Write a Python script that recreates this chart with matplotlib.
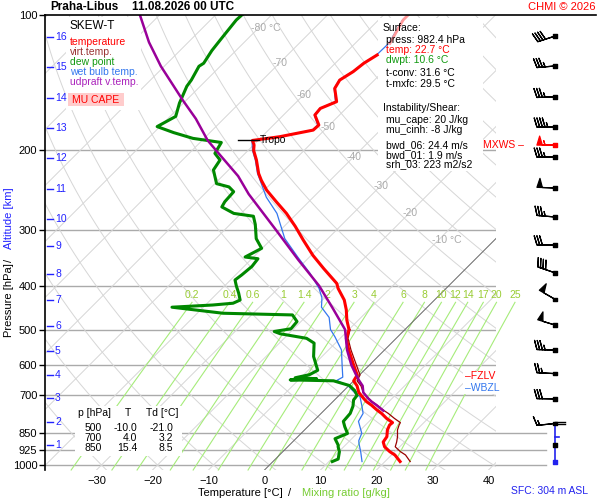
import numpy as np
import matplotlib.pyplot as plt
import matplotlib.transforms as mtransforms
from matplotlib.patches import Rectangle
from matplotlib.lines import Line2D
from matplotlib.ticker import NullLocator

plt.rcParams['font.family'] = ['Liberation Sans', 'DejaVu Sans']

# ---- sounding (hPa, deg C) ----
temp_p = [982.4, 950, 934, 911, 889, 865, 836, 815, 805, 788, 768, 755, 736, 723, 711,
          690, 667, 650, 631, 600, 555, 523, 500, 476, 452, 430, 405, 395, 366, 342,
          316, 295, 276, 260, 245, 233, 225, 210, 200, 194.5, 190, 186.4, 180.2, 175.6,
          166.8, 161.3, 155.8, 145.6, 139.5, 133.6, 128, 122.7, 115.6, 102.6, 100]
temp_t = [22.7, 20.6, 19.1, 17.3, 16.2, 15.9, 14.8, 14.3, 14.4, 12.6, 10.8, 9.4, 7.5, 6.0, 4.9,
          3.0, 1.5, 0.0, -0.4, -2.8, -6.4, -8.9, -10.0, -12.1, -14.0, -16.1, -19.3, -20.4, -25.4, -29.7,
          -34.2, -38.0, -41.9, -45.8, -49.6, -52.3, -54.0, -56.8, -59.0, -59.9, -61.0, -56.8, -52.0, -51.9,
          -54.4, -54.6, -52.9, -55.6, -56.2, -55.3, -54.9, -54.0, -53.8, -55.6, -55.6]

tv_p = [982.4, 950, 934, 911, 889, 865, 836, 815, 805, 788, 768, 755, 736, 723, 711,
        690, 667, 650, 631, 600, 555, 523, 500]
tv_t = [24.5, 22.5, 21.0, 19.2, 18.6, 17.8, 16.6, 16.0, 15.8, 14.0, 12.0, 10.5, 8.5, 7.0, 5.8,
        3.8, 2.2, 0.6, 0.1, -2.3, -6.0, -8.6, -9.8]

td_p = [982.4, 970, 934, 911, 903, 874, 851, 822, 800, 768, 740, 717, 700, 683, 666,
        650, 647, 643, 640, 630, 616, 574, 536, 523, 511, 505, 498, 480, 464, 460,
        446, 441, 437, 430, 415, 400, 388, 378, 362, 348, 345, 330, 314, 292, 280,
        276, 267, 260, 247, 241, 237, 221, 210, 203, 192, 188, 182.5, 177, 168, 157,
        144, 139.5, 130, 128, 120, 113.6, 102.6, 100]
td_t = [10.6, 11.2, 10.1, 9.0, 8.7, 7.0, 8.3, 6.6, 5.4, 5.2, 4.4, 3.4, 3.2, 1.9, 0.1,
        -3.6, -11.5, -7.0, -11.0, -9.0, -8.3, -11.5, -13.8, -16.0, -21.5, -23.0, -20.5, -20.7, -22.7, -35.4,
        -45.6, -38.7, -35.4, -34.7, -36.2, -37.9, -39.2, -38.9, -38.6, -38.9, -41.5, -40.1, -42.8, -45.5, -47.3,
        -51.3, -54.6, -55.0, -55.2, -56.9, -59.7, -62.7, -63.3, -65.4, -66.2, -72.0, -76.5, -80.5, -79.0, -80.7,
        -82.4, -82.7, -83.8, -83.5, -84.3, -84.7, -85.4, -85.3]

tw_p = [982.4, 934, 895, 883, 850, 800, 768, 740, 704, 696, 666, 649, 638, 601, 555,
        519, 500, 470, 446, 425, 405, 375, 345, 314, 276, 254, 232.6, 225, 210, 200,
        190, 186.4, 180.2, 175.6, 166.8, 161.3, 155.8, 145.6, 139.5, 133.6, 128, 122.7,
        115.6, 102.6, 100]
tw_t = [15.9, 13.9, 12.1, 11.6, 10.8, 8.1, 7.5, 6.0, 3.9, 2.8, -0.2, -3.1, -2.6, -4.8, -7.7,
        -11.2, -13.3, -15.7, -18.9, -20.5, -22.7, -27.0, -32.1, -37.7, -43.6, -48.4, -52.6, -54.2, -57.0, -59.2,
        -61.1, -56.9, -52.2, -52.1, -54.5, -54.7, -53.1, -55.7, -56.3, -55.4, -55.0, -54.1,
        -54.0, -55.7, -55.7]

par_p = [757, 736, 723, 711, 690, 667, 650, 631, 600, 555, 500, 450, 400, 350, 300,
         250, 228, 200, 190, 170, 155, 130, 115, 100]
par_t = [10.6, 8.4, 6.9, 5.7, 3.8, 2.5, 1.0, -0.6, -3.2, -6.7, -10.7, -16.5, -23.1, -31.5, -40.9,
         -52.1, -57.2, -65.7, -69.0, -75.0, -80.5, -90.6, -97.0, -103.5]

tropo_p, tropo_t = 190, -61.0

km_p = [902.8, 802.6, 709.9, 631, 558.1, 491.1, 429.9, 376.3, 326.1, 284.0,
        243.6, 207.9, 178.3, 152.9, 130.5, 111.9]
km_lab = list(range(1, 17))

wind_p = [111.4, 129.8, 152.0, 177.4, 194.6, 206.9, 242.3, 281.1, 324.2, 374.1,
          428.3, 488.6, 555.6, 626.5, 713.1, 808.6]
wind_dir = [252, 265, 268, 270, 270, 270, 272, 275, 270, 289, 300, 287, 272, 273, 271, 264]
wind_spd = [20, 17.5, 17.5, 22.5, 27.5, 17.5, 25, 17.5, 15, 20, 25, 25, 17.5, 12.5, 15, 7.5]
mxws_p = 194.6

fzlv_p, wbzl_p = 634, 674

tab_p = [500, 700, 850]
tab_t = [-10.0, 4.0, 15.4]
tab_td = [-21.0, 3.2, 8.5]

p_levels = [100, 200, 300, 400, 500, 600, 700, 850, 925, 1000]
t_ticks = [-30, -20, -10, 0, 10, 20, 30, 40]
iso_lab_t = [-80, -70, -60, -50, -40, -30, -20, -10]
iso_lab_p = [106.9, 127.9, 150.7, 177.2, 206.9, 239.9, 275.4, 316.2]
mr_vals = [0.2, 0.4, 0.6, 1, 1.4, 2, 3, 4, 6, 8, 10, 12, 14, 17, 20, 25]
mr_labels = ['0.2', '0.4', '0.6', '1', '1.4', '2', '3', '4', '6', '8', '10', '12', '14', '17', '20', '25']

# ---- skew-T geometry ----
P_BOT = 1025.9
SKEW = 80.36


def skx(t, p):
    return np.asarray(t, float) + SKEW * np.log10(P_BOT / np.asarray(p, float))


def mr_dewpoint(w, p):
    e = w * p / (622.0 + w)
    a = np.log(e / 6.112)
    return 243.5 * a / (17.67 - a)


def fx(px):
    return px / 600.0


def fy(py):
    return 1 - py / 500.0


fig = plt.figure(figsize=(6, 5), dpi=100)
fig.patch.set_facecolor('white')
ax = fig.add_axes([fx(45), 30 / 500, 451 / 600, 455 / 500])
ax.set_yscale('log')
ax.set_ylim(P_BOT, 100)
ax.set_xlim(-39.2, 41.34)

for s in ['right', 'bottom', 'top']:
    ax.spines[s].set_visible(False)
ax.spines['left'].set_linewidth(1.2)

ax.yaxis.set_minor_locator(NullLocator())
ax.set_yticks(p_levels)
ax.set_yticklabels([str(p) for p in p_levels])
ax.tick_params(axis='y', length=4, width=1, pad=1.5, labelsize=8)
ax.set_xticks(t_ticks)
ax.set_xticklabels([str(t).replace('-', '\u2212') for t in t_ticks])
ax.tick_params(axis='x', length=0, pad=4, labelsize=8)

# background grid
for p in p_levels[1:]:
    ax.axhline(p, color='#aaaaaa', lw=1, zorder=1)
for t in range(-130, 50, 10):
    ax.plot(skx([t, t], [P_BOT, 100]), [P_BOT, 100], color='#666666' if t == 0 else '#d6d6d6',
            lw=0.7, zorder=1.1 if t == 0 else 1)
pp = np.logspace(np.log10(P_BOT), 2, 60)
for th in range(-30, 200, 10):
    ta = (th + 273.15) * (pp / 1000.0) ** 0.2857 - 273.15
    ax.plot(skx(ta, pp), pp, color='#d6d6d6', lw=0.7, zorder=1)
pm = np.logspace(np.log10(P_BOT), np.log10(435), 30)
for w, lab in zip(mr_vals, mr_labels):
    ax.plot(skx(mr_dewpoint(w, pm), pm), pm, color='#a6ec7a', lw=0.8, zorder=1.05, clip_on=False)
    ax.text(skx(mr_dewpoint(w, 435), 435), 419, lab, color='#99cc33', fontsize=7.5,
            ha='center', va='center', zorder=1.2, clip_on=False)
for t, p in zip(iso_lab_t, iso_lab_p):
    lab = f'{t} \u00b0C' if t in (-80, -10) else str(t)
    ax.text(skx(t, p) - 1.25, p, lab, color='#aaaaaa', fontsize=7.5, ha='left', va='center', zorder=1.2)

# white boxes under the data
box_kw = dict(transform=fig.transFigure, clip_on=False, lw=0)
for (x0, y0, x1, y1) in [(66, 17, 141, 110), (378, 18, 483, 171), (75, 406, 182, 456), (463, 371, 508, 394)]:
    ax.add_patch(Rectangle((fx(x0), fy(y1)), (x1 - x0) / 600, (y1 - y0) / 500,
                           facecolor='white', zorder=1.5, **box_kw))
ax.add_patch(Rectangle((fx(68), fy(106)), 56 / 600, 13 / 500, facecolor='#ffcccc', zorder=1.6, **box_kw))

# CAPE shading
common = [p for p in par_p if p in tv_p]
tv_c = np.array([tv_t[tv_p.index(p)] for p in common])
par_c = np.array([par_t[par_p.index(p)] for p in common])
ax.fill_betweenx(common, skx(tv_c, common), skx(par_c, common), where=par_c > tv_c,
                 interpolate=True, color='#ffcccc', lw=0, zorder=2.8)

# profiles
ax.plot(skx(tw_t, tw_p), tw_p, color='#3377ee', lw=0.9, zorder=3)
ax.plot(skx(tv_t, tv_p), tv_p, color='#990000', lw=0.9, zorder=3.1)
tp = np.array(temp_p)
tt = np.array(temp_t)
low = tp >= 122.7
ax.plot(skx(tt[low], tp[low]), tp[low], color='#ff0000', lw=2.2, zorder=3.3)
ax.plot(skx(tt[~low], tp[~low]), tp[~low], color='#ff9999', lw=2.0, zorder=3.3)
ax.plot(skx(td_t, td_p), td_p, color='#008800', lw=2.2, zorder=3.2)
ax.plot(skx(par_t, par_p), par_p, color='#990099', lw=1.8, zorder=3.4)

# tropopause
xt = skx(tropo_t, tropo_p)
ax.plot([xt - 2.6, xt + 1.1], [tropo_p, tropo_p], color='black', lw=1, zorder=4)
ax.text(xt + 1.3, tropo_p, 'Tropo', fontsize=7.5, ha='left', va='center', zorder=4)

# km altitude ticks
blend = mtransforms.blended_transform_factory(ax.transAxes, ax.transData)
for p, k in zip(km_p, km_lab):
    ax.plot([2 / 451, 8 / 451], [p, p], color='#2222ff', lw=1, transform=blend, zorder=4)
    ax.text(10 / 451, p, str(k), color='#2222ff', fontsize=7.5, ha='left', va='center',
            transform=blend, zorder=4)

# ---- wind barbs ----
bax = fig.add_axes([fx(496), 30 / 500, 104 / 600, 455 / 500])
bax.set_yscale('log')
bax.set_ylim(P_BOT, 100)
bax.set_xlim(496, 600)
bax.axis('off')
bax.patch.set_alpha(0)
for p in [850, 925, 1000]:
    bax.plot([496, 546], [p, p], color='#aaaaaa', lw=1)
wd = np.radians(wind_dir)
ws = np.array(wind_spd)
u = -ws * np.sin(wd)
v = -ws * np.cos(wd)
cols = ['red' if p == mxws_p else 'black' for p in wind_p]
bax.barbs(np.full(len(wind_p), 555.0), wind_p, u, v, color=cols, length=5.1, lw=0.9,
          barb_increments=dict(half=2.5, full=5, flag=25),
          sizes=dict(spacing=0.15, height=0.5, width=0.3), zorder=3)
bax.scatter(np.full(len(wind_p), 555.0), wind_p, marker='s', s=6, c=cols, zorder=4)
bax.plot([555, 555], [808.6, 982.4], color='#2222ee', lw=1.2, zorder=2)
bax.plot([555, 559], [866, 866], color='#2222ee', lw=1.2)
bax.plot([555, 565], [801, 801], color='black', lw=1)
bax.plot([555, 565], [809, 809], color='black', lw=1)
bax.scatter([555], [905], marker='s', s=6, c='black', zorder=4)
bax.scatter([555], [982.4], marker='s', s=8, c='#2222ee', zorder=4)

# ---- texts ----
fig.add_artist(Line2D([fx(45), fx(596)], [fy(15), fy(15)], color='black', lw=1.2))
fig.text(fx(50), fy(7), 'Praha-Libus', fontsize=8.5, fontweight='bold', va='center')
fig.text(fx(132), fy(7), '11.08.2026 00 UTC', fontsize=8.5, fontweight='bold', va='center')
fig.text(fx(596), fy(7), 'CHMI \u00a9 2026', fontsize=8, color='red', ha='right', va='center')

fig.text(fx(70), fy(26), 'SKEW-T', fontsize=8.5, va='center')
leg = [('temperature', '#ff0000'), ('virt.temp.', '#993333'), ('dew point', '#119911'),
       ('wet bulb temp.', '#3377ee'), ('udpraft v.temp.', '#aa22bb')]
for i, (s, c) in enumerate(leg):
    fig.text(fx(70), fy(42 + 10 * i), s, fontsize=7.5, color=c, va='center')
fig.text(fx(96), fy(100), 'MU CAPE', fontsize=7.5, color='red', ha='center', va='center')

info = [(383, 28, 'Surface:', 'black'), (386, 40, 'press: 982.4 hPa', 'black'),
        (386, 50, 'temp: 22.7 \u00b0C', 'red'), (386, 60, 'dwpt: 10.6 \u00b0C', '#119911'),
        (386, 73, 't-conv: 31.6 \u00b0C', 'black'), (386, 84, 't-mxfc: 29.5 \u00b0C', 'black'),
        (383, 108, 'Instability/Shear:', 'black'), (386, 120, 'mu_cape: 20 J/kg', 'black'),
        (386, 130, 'mu_cinh: -8 J/kg', 'black'), (386, 145, 'bwd_06: 24.4 m/s', 'black'),
        (386, 155, 'bwd_01: 1.9 m/s', 'black'), (386, 164, 'srh_03: 223 m2/s2', 'black')]
for x, y, s, c in info:
    fig.text(fx(x), fy(y), s, fontsize=7.5, color=c, va='center')

fig.text(fx(78), fy(413), 'p [hPa]', fontsize=7.5, va='center')
fig.text(fx(127.5), fy(413), 'T', fontsize=7.5, va='center', ha='center')
fig.text(fx(146), fy(413), 'Td [\u00b0C]', fontsize=7.5, va='center')
for i, (p, t, d) in enumerate(zip(tab_p, tab_t, tab_td)):
    y = 428 + 10 * i
    fig.text(fx(102), fy(y), str(p), fontsize=7.5, va='center', ha='right')
    fig.text(fx(137), fy(y), f'{t:.1f}', fontsize=7.5, va='center', ha='right')
    fig.text(fx(173), fy(y), f'{d:.1f}', fontsize=7.5, va='center', ha='right')

ax.text(0.971, mxws_p, 'MXWS \u2013', transform=blend, fontsize=7.5, color='red',
        ha='left', va='center', clip_on=False, zorder=5)
ax.text(0.931, fzlv_p, '\u2013FZLV', transform=blend, fontsize=7.5, color='red',
        ha='left', va='center', clip_on=False, zorder=5)
ax.text(0.931, wbzl_p, '\u2013WBZL', transform=blend, fontsize=7.5, color='#3377ee',
        ha='left', va='center', clip_on=False, zorder=5)

fig.text(fx(9), fy(300), 'Pressure [hPa]', fontsize=8, rotation=90, ha='center', va='center')
fig.text(fx(9), fy(260), '/', fontsize=8, rotation=90, ha='center', va='center')
fig.text(fx(9), fy(218), 'Altitude [km]', fontsize=8, rotation=90, ha='center', va='center', color='#2222ff')
fig.text(fx(198), fy(493), 'Temperature [\u00b0C]', fontsize=8, va='center')
fig.text(fx(288), fy(493), '/', fontsize=8, va='center')
fig.text(fx(302), fy(493), 'Mixing ratio [g/kg]', fontsize=8, va='center', color='#77cc33')
fig.text(fx(588), fy(491), 'SFC: 304 m ASL', fontsize=7.5, va='center', ha='right', color='#2222ee')

fig.savefig('out.png', dpi=100)
